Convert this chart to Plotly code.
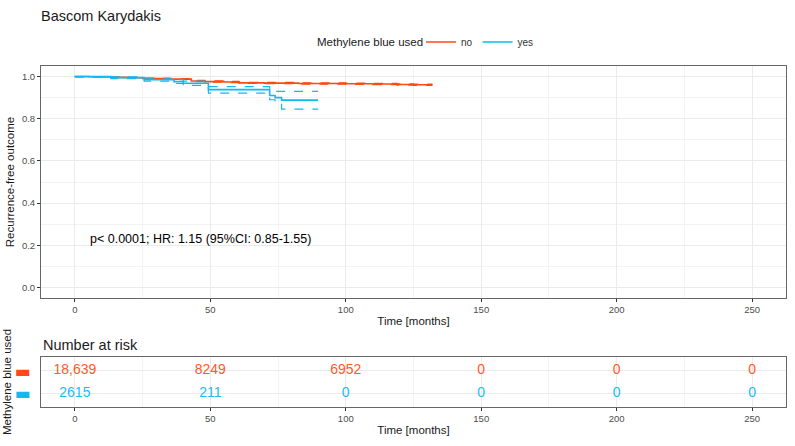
import plotly.graph_objects as go

# ---- data ----
t_no = [0, 5, 10, 15, 20, 25, 30, 35, 43, 48, 55, 60.6, 70, 82.6, 90, 100, 110, 119, 125, 132]
s_no = [1.0, 0.999, 0.998, 0.996, 0.994, 0.991, 0.990, 0.988, 0.979, 0.976, 0.974, 0.970, 0.969, 0.967, 0.967, 0.966, 0.965, 0.962, 0.961, 0.961]
up_no = [1.0, 1.0, 0.999, 0.998, 0.996, 0.993, 0.992, 0.990, 0.982, 0.979, 0.977, 0.973, 0.972, 0.970, 0.970, 0.969, 0.968, 0.965, 0.964, 0.964]
lo_no = [1.0, 0.998, 0.997, 0.994, 0.992, 0.989, 0.988, 0.986, 0.976, 0.973, 0.971, 0.967, 0.966, 0.964, 0.964, 0.963, 0.962, 0.959, 0.958, 0.958]

t_yes = [0, 13.3, 25.6, 36.6, 40, 49.3, 71.9, 73.9, 76.3, 89.8]
s_yes = [1.0, 0.995, 0.985, 0.976, 0.968, 0.938, 0.910, 0.900, 0.888, 0.888]
up_yes = [1.0, 0.999, 0.992, 0.985, 0.978, 0.952, 0.930, 0.930, 0.930, 0.930]
lo_yes = [1.0, 0.990, 0.978, 0.967, 0.958, 0.921, 0.890, 0.875, 0.846, 0.846]

risk_times = [0, 50, 100, 150, 200, 250]
risk_no = ["18,639", "8249", "6952", "0", "0", "0"]
risk_yes = ["2615", "211", "0", "0", "0", "0"]

groups = ["no", "yes"]
col_no = "#FF4A12"
col_yes = "#12B8F0"
col_no_txt = "#FF5A2A"
col_yes_txt = "#19BDF2"

FONT = "Liberation Sans, Arial, sans-serif"
W, H = 795, 446

fig = go.Figure()

# main curves
for t, s, up, lo, name, col in [
    (t_no, s_no, up_no, lo_no, groups[0], col_no),
    (t_yes, s_yes, up_yes, lo_yes, groups[1], col_yes),
]:
    for ci in (up, lo):
        fig.add_trace(go.Scatter(x=t, y=ci, mode="lines", line=dict(color=col, width=1.2, dash="dash", shape="hv"),
                                 showlegend=False, hoverinfo="skip", xaxis="x", yaxis="y"))
    fig.add_trace(go.Scatter(x=t, y=s, mode="lines", name=name,
                             line=dict(color=col, width=1.6, shape="hv"), xaxis="x", yaxis="y"))

# risk table
for vals, ypos, col in [(risk_no, 2, col_no_txt), (risk_yes, 1, col_yes_txt)]:
    fig.add_trace(go.Scatter(x=risk_times, y=[ypos] * len(risk_times), mode="text", text=vals,
                             textfont=dict(color=col, size=14, family=FONT), showlegend=False,
                             xaxis="x2", yaxis="y2", hoverinfo="skip"))

x0, x1 = 41 / W, 786 / W
grid = "#EBEBEB"
tickfont = dict(size=9.5, color="#4D4D4D", family=FONT)

common_x = dict(range=[-12.5, 262.5], tickvals=[0, 50, 100, 150, 200, 250], showgrid=True, gridcolor=grid,
                gridwidth=1, minor=dict(dtick=25, tick0=0, showgrid=True, gridcolor="#F3F3F3", gridwidth=0.6),
                ticks="outside", ticklen=3, tickcolor="#333333", tickfont=tickfont, zeroline=False,
                showline=True, linecolor="#666666", mirror=True, linewidth=1, domain=[x0, x1])

fig.update_layout(
    width=W, height=H, margin=dict(l=0, r=0, t=0, b=0),
    paper_bgcolor="white", plot_bgcolor="white",
    font=dict(family=FONT, color="#1A1A1A"),
    title=dict(text="Bascom Karydakis", x=41 / W, xanchor="left", y=1 - 16 / H, yanchor="middle",
               font=dict(size=14.5, color="#1A1A1A", family=FONT)),
    xaxis=dict(**common_x, anchor="y",
               title=dict(text="Time [months]", font=dict(size=11.5, color="#1A1A1A"), standoff=2)),
    yaxis=dict(range=[-0.05, 1.05], tickvals=[0, 0.2, 0.4, 0.6, 0.8, 1.0],
               ticktext=["0.0", "0.2", "0.4", "0.6", "0.8", "1.0"],
               domain=[1 - 298 / H, 1 - 66 / H], showgrid=True, gridcolor=grid,
               minor=dict(dtick=0.1, tick0=0, showgrid=True, gridcolor="#F3F3F3", gridwidth=0.6),
               ticks="outside", ticklen=3, tickcolor="#333333", tickfont=tickfont, zeroline=False,
               showline=True, linecolor="#666666", mirror=True, linewidth=1, anchor="x",
               title=dict(text="Recurrence-free outcome", font=dict(size=11.5, color="#1A1A1A"), standoff=4)),
    xaxis2=dict(**common_x, anchor="y2",
                title=dict(text="Time [months]", font=dict(size=11.5, color="#1A1A1A"), standoff=2)),
    yaxis2=dict(range=[0.4, 2.6], tickvals=[1, 2],
                ticktext=[f"<span style='color:{col_yes}'><b>▬</b></span>", f"<span style='color:{col_no}'><b>▬</b></span>"],
                tickfont=dict(size=17, family="DejaVu Sans"),
                domain=[1 - 407 / H, 1 - 357 / H], showgrid=True, gridcolor=grid, zeroline=False,
                ticks="", ticklabelstandoff=6, showline=True, linecolor="#666666", mirror=True, linewidth=1,
                anchor="x2",
                title=dict(text="Methylene blue used", font=dict(size=11.5, color="#1A1A1A"), standoff=0)),
    legend=dict(orientation="h", x=421 / W, xanchor="left", y=1 - 42 / H, yanchor="middle",
                font=dict(size=10, color="#333333"), itemwidth=30, bgcolor="rgba(0,0,0,0)",
                tracegroupgap=0),
    showlegend=True,
)

fig.add_annotation(text="Methylene blue used", x=425 / W, y=1 - 42 / H, xref="paper", yref="paper",
                   xanchor="right", yanchor="middle", showarrow=False,
                   font=dict(size=11.5, color="#1A1A1A", family=FONT))
fig.add_annotation(text="p< 0.0001; HR: 1.15 (95%CI: 0.85-1.55)", x=5, y=0.23, xref="x", yref="y",
                   xanchor="left", yanchor="middle", showarrow=False,
                   font=dict(size=12.5, color="#000000", family=FONT))
fig.add_annotation(text="Number at risk", x=41 / W, y=1 - 345 / H, xref="paper", yref="paper",
                   xanchor="left", yanchor="middle", showarrow=False,
                   font=dict(size=14.5, color="#1A1A1A", family=FONT))

fig.write_html("out.html")
